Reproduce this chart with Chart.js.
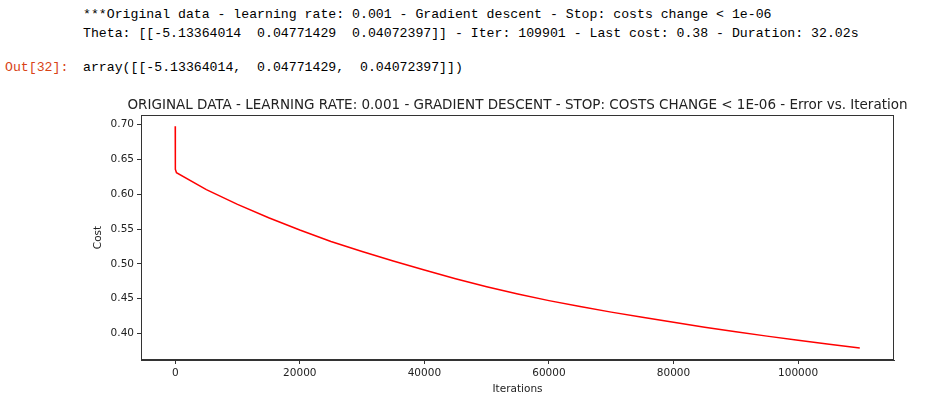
<!DOCTYPE html>
<html>
<head>
<meta charset="utf-8">
<script src="https://cdn.jsdelivr.net/npm/chart.js@4/dist/chart.umd.min.js"></script>
<style>
  body { margin: 0; background: #fff; width: 933px; height: 413px; overflow: hidden; position: relative; }
  .out { position: absolute; font-family: 'Liberation Mono', 'DejaVu Sans Mono', monospace; font-size: 13.2px; color: #000; white-space: pre; line-height: 19px; }
  .prompt { color: #d84315; }
  #wrap { position: absolute; left: 0; top: 0; width: 933px; height: 413px; }
</style>
</head>
<body>
<div class="out" style="left:83px; top:5px;">***Original data - learning rate: 0.001 - Gradient descent - Stop: costs change &lt; 1e-06
Theta: [[-5.13364014  0.04771429  0.04072397]] - Iter: 109901 - Last cost: 0.38 - Duration: 32.02s</div>
<div class="out prompt" style="left:5px; top:58px;">Out[32]:</div>
<div class="out" style="left:83px; top:58px;">array([[-5.13364014,  0.04771429,  0.04072397]])</div>
<div id="wrap"><canvas id="costChart" width="933" height="413"></canvas></div>
<script>
// cost per iteration
const iterations = [0, 10, 30, 200, 5000, 10000, 15000, 20000, 25000, 30000, 35000, 40000, 45000, 50000,
  55000, 60000, 65000, 70000, 75000, 80000, 85000, 90000, 95000, 100000, 105000, 109901];
const cost = [0.698, 0.660, 0.636, 0.631, 0.6068, 0.5856, 0.5663, 0.5487, 0.5323, 0.5178, 0.5043, 0.4913, 0.4788, 0.4673,
  0.4568, 0.4473, 0.4388, 0.4308, 0.4233, 0.4161, 0.4091, 0.4025, 0.3963, 0.3904, 0.3847, 0.3792];

const xTicks = [0, 20000, 40000, 60000, 80000, 100000];
const yTicks = [0.40, 0.45, 0.50, 0.55, 0.60, 0.65, 0.70];

const chartTitle = 'ORIGINAL DATA - LEARNING RATE: 0.001 - GRADIENT DESCENT - STOP: COSTS CHANGE < 1E-06 - Error vs. Iteration';

// matplotlib style 5% margins
const xMin = 0 - 0.05 * 109901;
const xMax = 109901 * 1.05;
const yLo = 0.378, yHi = 0.698;
const yMin = yLo - 0.05 * (yHi - yLo);
const yMax = yHi + 0.05 * (yHi - yLo);

const axisColor = '#333';
const textColor = '#222';

// box around the axes + title over the plot area
const framePlugin = {
  id: 'frame',
  afterDraw(chart) {
    const { ctx, chartArea } = chart;
    ctx.save();
    ctx.strokeStyle = axisColor;
    ctx.lineWidth = 1;
    ctx.strokeRect(chartArea.left + 0.5, chartArea.top + 0.5, chartArea.right - chartArea.left - 1, chartArea.bottom - chartArea.top - 1);
    ctx.fillStyle = textColor;
    ctx.font = '13.5px "DejaVu Sans"';
    ctx.textAlign = 'center';
    ctx.textBaseline = 'alphabetic';
    ctx.fillText(chartTitle, (chartArea.left + chartArea.right) / 2, chartArea.top - 6);
    ctx.restore();
  }
};

const tickFont = { family: 'DejaVu Sans', size: 10.5 };

new Chart(document.getElementById('costChart'), {
  type: 'scatter',
  data: {
    datasets: [{
      label: 'Cost',
      data: iterations.map((it, i) => ({ x: it, y: cost[i] })),
      showLine: true,
      borderColor: '#ff0000',
      borderWidth: 1.5,
      pointRadius: 0,
      fill: false,
      tension: 0
    }]
  },
  options: {
    responsive: false,
    animation: false,
    layout: { padding: { left: 88, right: 39, top: 115, bottom: 13 } },
    plugins: { legend: { display: false }, tooltip: { enabled: false } },
    scales: {
      x: {
        type: 'linear',
        min: xMin,
        max: xMax,
        afterFit: (scale) => { scale.height = 40; },
        afterBuildTicks: (scale) => { scale.ticks = xTicks.map(v => ({ value: v })); },
        grid: { display: true, drawOnChartArea: false, tickLength: 4, tickColor: axisColor },
        border: { display: true, color: axisColor },
        ticks: { font: tickFont, color: textColor, padding: 3, maxRotation: 0, callback: (v) => String(v) },
        title: { display: true, text: 'Iterations', font: tickFont, color: textColor }
      },
      y: {
        type: 'linear',
        min: yMin,
        max: yMax,
        afterFit: (scale) => { scale.width = 53; },
        afterBuildTicks: (scale) => { scale.ticks = yTicks.map(v => ({ value: v })); },
        grid: { display: true, drawOnChartArea: false, tickLength: 4, tickColor: axisColor },
        border: { display: true, color: axisColor },
        ticks: { font: tickFont, color: textColor, padding: 3, callback: (v) => v.toFixed(2) },
        title: { display: true, text: 'Cost', font: tickFont, color: textColor }
      }
    }
  },
  plugins: [framePlugin]
});
</script>
</body>
</html>
